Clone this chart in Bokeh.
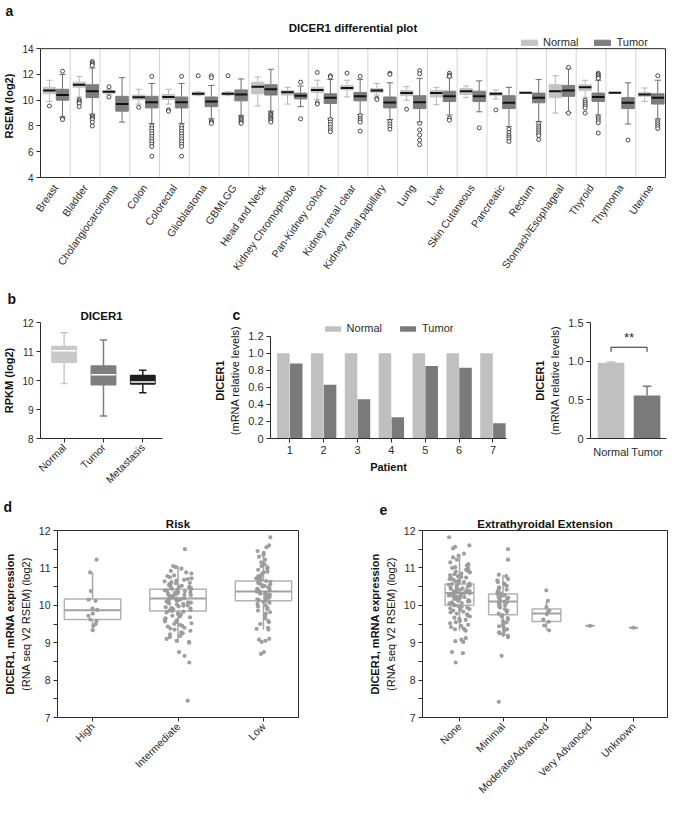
import math
from bokeh.plotting import figure
from bokeh.models import (Range1d, FixedTicker, ColumnDataSource, Legend, LegendItem,
                          Title, LinearAxis)
from bokeh.layouts import column, row
from bokeh.embed import file_html
from bokeh.resources import INLINE
from bokeh.transform import jitter

# ====================== DATA ======================
# ---- panel a: DICER1 differential plot (RSEM log2) ----
a_categories = ["Breast", "Bladder", "Cholangiocarcinoma", "Colon", "Colorectal",
                "Glioblastoma", "GBMLGG", "Head and Neck", "Kidney Chromophobe",
                "Pan-Kidney cohort", "Kidney renal clear", "Kidney renal papillary",
                "Lung", "Liver", "Skin Cutaneous", "Pancreatic", "Rectum",
                "Stomach/Esophageal", "Thyroid", "Thymoma", "Uterine"]
a_normal_lower = [9.9, 10.25, 10.45, 9.7, 9.7, 10.35, 10.35, 9.55, 9.7, 10.05, 10.25,
                  10.4, 10.0, 9.65, 10.2, 10.1, 10.58, 9.0, 10.2, 10.57, 9.9]
a_normal_q1 = [10.5, 11.0, 10.55, 10.05, 10.05, 10.4, 10.4, 10.5, 10.4, 10.6, 10.8,
               10.6, 10.35, 10.25, 10.45, 10.35, 10.58, 10.2, 10.75, 10.57, 10.3]
a_normal_median = [10.75, 11.2, 10.65, 10.22, 10.25, 10.5, 10.5, 11.05, 10.62, 10.8, 10.95,
                   10.75, 10.55, 10.55, 10.7, 10.5, 10.58, 10.7, 11.0, 10.57, 10.45]
a_normal_q3 = [11.0, 11.4, 10.75, 10.4, 10.45, 10.62, 10.6, 11.4, 10.75, 11.0, 11.15,
               10.9, 10.75, 10.75, 10.9, 10.6, 10.58, 11.2, 11.2, 10.57, 10.6]
a_normal_upper = [11.55, 11.85, 10.85, 10.85, 10.85, 10.65, 10.65, 11.8, 11.0, 11.55, 11.55,
                  11.3, 11.05, 11.0, 11.1, 10.8, 10.58, 11.9, 11.55, 10.57, 10.95]
a_normal_outliers = [[9.55], [10.05, 9.95, 9.85, 9.75, 9.5], [11.05, 10.25], [9.45],
                     [9.25, 9.15], [11.9], [11.9], [], [], [12.15, 9.8, 9.7], [12.1],
                     [10.15, 10.05], [9.3], [], [], [9.25], [], [],
                     [10.0, 9.85, 9.7, 9.55, 9.4, 9.0], [], []]
a_tumor_lower = [8.7, 8.9, 8.3, 8.2, 8.2, 8.55, 8.8, 9.15, 9.5, 8.6, 8.9,
                 8.5, 8.3, 8.85, 9.1, 7.95, 8.35, 9.05, 8.85, 8.15, 8.55]
a_tumor_q1 = [10.0, 10.2, 9.15, 9.4, 9.4, 9.5, 9.95, 10.4, 10.1, 9.75, 9.95,
              9.4, 9.35, 9.9, 9.9, 9.35, 9.8, 10.3, 9.9, 9.35, 9.7]
a_tumor_median = [10.4, 10.7, 9.7, 9.85, 9.85, 9.9, 10.45, 10.85, 10.35, 10.2, 10.3,
                  9.82, 9.85, 10.3, 10.3, 9.8, 10.2, 10.75, 10.25, 9.8, 10.2]
a_tumor_q3 = [10.85, 11.2, 10.3, 10.3, 10.25, 10.25, 10.8, 11.2, 10.55, 10.5, 10.6,
              10.25, 10.35, 10.7, 10.7, 10.35, 10.55, 11.15, 10.55, 10.2, 10.5]
a_tumor_upper = [12.0, 12.5, 11.75, 11.3, 11.3, 11.15, 11.65, 12.4, 11.1, 11.6, 11.6,
                 11.35, 11.7, 11.75, 11.5, 11.0, 11.6, 12.45, 11.55, 11.35, 11.55]
a_tumor_outliers = [[12.25, 8.6, 8.5],
                    [13.0, 12.9, 12.8, 12.7, 8.8, 8.7, 8.6, 8.5, 8.3, 8.0],
                    [],
                    [11.85, 8.0, 7.8, 7.6, 7.4, 7.2, 7.0, 6.8, 6.6, 6.4, 5.65],
                    [11.85, 8.0, 7.8, 7.6, 7.4, 7.2, 7.0, 6.8, 6.6, 6.4, 5.65],
                    [11.9, 11.75, 8.4, 8.3, 8.2],
                    [8.7, 8.6, 8.5, 8.4, 8.3, 8.2],
                    [9.0, 8.9, 8.8, 8.7, 8.6, 8.5, 8.4, 8.3],
                    [11.4, 8.55],
                    [11.9, 11.8, 8.5, 8.3, 8.1, 7.9, 7.7, 7.55],
                    [11.85, 8.8, 8.6, 8.45, 8.3, 7.6],
                    [12.1, 12.0, 8.35, 8.15, 7.95, 7.75],
                    [12.3, 12.05, 8.2, 7.7, 7.3, 6.9, 6.55],
                    [12.1, 11.95, 11.85, 8.6, 8.45],
                    [7.85],
                    [7.75, 7.5, 7.3, 7.15, 7.0, 6.8],
                    [8.2, 8.0, 7.85, 7.7, 7.55, 7.4, 7.25, 6.95],
                    [12.55, 9.0],
                    [12.1, 12.0, 11.9, 11.8, 11.7, 8.7, 8.55, 8.4, 8.25, 7.45],
                    [6.9],
                    [11.9, 8.4, 8.25, 8.1, 7.95, 7.8]]
a_yticks = [4, 6, 8, 10, 12, 14]

# ---- panel b: DICER1 RPKM (log2) ----
b_categories = ["Normal", "Tumor", "Metastasis"]
b_lower = [9.9, 8.78, 9.58]
b_q1 = [10.63, 9.85, 9.88]
b_median = [11.03, 10.2, 9.95]
b_q3 = [11.17, 10.5, 10.17]
b_upper = [11.65, 11.4, 10.35]
b_yticks = [8, 9, 10, 11, 12]

# ---- panel c: qPCR per patient ----
c_patients = [1, 2, 3, 4, 5, 6, 7]
c_normal = [1.0, 1.0, 1.0, 1.0, 1.0, 1.0, 1.0]
c_tumor = [0.88, 0.63, 0.46, 0.25, 0.85, 0.83, 0.18]
c_yticks = [0, 0.2, 0.4, 0.6, 0.8, 1.0, 1.2]
c_ytick_labels = ["0", "0.2", "0.4", "0.6", "0.8", "1.0", "1.2"]
c2_groups = ["Normal", "Tumor"]
c2_means = [0.98, 0.555]
c2_errors = [0.01, 0.12]
c2_yticks = [0, 0.5, 1.0, 1.5]
c2_ytick_labels = ["0", "0.5", "1.0", "1.5"]
c2_bracket_level = 1.18
c2_sig_label = "**"

# ---- panel d: Risk ----
d_categories = ["High", "Intermediate", "Low"]
d_high = [11.22, 10.88, 10.38, 10.15, 10.12, 9.92, 9.88, 9.78, 9.72, 9.62, 9.58, 9.50,
          9.45, 9.33]
d_intermediate = [11.50, 11.05, 11.02, 10.98, 10.92, 10.88, 10.85, 10.80, 10.78, 10.75,
                  10.72, 10.70, 10.68, 10.66, 10.64, 10.62, 10.60, 10.59, 10.57, 10.55,
                  10.54, 10.52, 10.50, 10.49, 10.47, 10.46, 10.45, 10.44, 10.43, 10.42,
                  10.40, 10.39, 10.38, 10.36, 10.35, 10.34, 10.32, 10.31, 10.30, 10.28,
                  10.27, 10.26, 10.25, 10.23, 10.22, 10.21, 10.20, 10.19, 10.18, 10.17,
                  10.16, 10.15, 10.14, 10.12, 10.11, 10.10, 10.08, 10.07, 10.05, 10.04,
                  10.02, 10.00, 9.99, 9.97, 9.95, 9.93, 9.92, 9.90, 9.88, 9.86, 9.85,
                  9.83, 9.81, 9.79, 9.77, 9.75, 9.72, 9.70, 9.68, 9.65, 9.62, 9.60, 9.57,
                  9.55, 9.52, 9.50, 9.48, 9.45, 9.43, 9.40, 9.38, 9.35, 9.32, 9.28, 9.25,
                  9.22, 9.18, 9.15, 9.10, 9.05, 9.02, 9.00, 8.75, 8.65, 8.47, 7.45]
d_low = [11.82, 11.60, 11.55, 11.45, 11.40, 11.35, 11.30, 11.22, 11.15, 11.10, 11.05,
         11.02, 10.98, 10.95, 10.90, 10.88, 10.85, 10.80, 10.78, 10.75, 10.72, 10.70,
         10.68, 10.65, 10.63, 10.60, 10.58, 10.56, 10.54, 10.52, 10.50, 10.48, 10.46,
         10.44, 10.42, 10.40, 10.38, 10.37, 10.35, 10.33, 10.31, 10.30, 10.28, 10.26,
         10.24, 10.22, 10.20, 10.18, 10.16, 10.14, 10.12, 10.10, 10.07, 10.04, 10.00,
         9.97, 9.93, 9.90, 9.86, 9.82, 9.78, 9.72, 9.65, 9.58, 9.55, 9.50, 9.40, 9.37,
         9.35, 9.10, 9.08, 9.05, 9.02, 8.75, 8.70]
d_lower = [9.33, 9.00, 9.35]
d_q1 = [9.62, 9.85, 10.12]
d_median = [9.87, 10.18, 10.37]
d_q3 = [10.17, 10.43, 10.65]
d_upper = [10.88, 11.05, 11.35]

# ---- panel e: Extrathyroidal Extension ----
e_categories = ["None", "Minimal", "Moderate/Advanced", "Very Advanced", "Unknown"]
e_none = [11.82, 11.60, 11.56, 11.52, 11.38, 11.33, 11.28, 11.22, 11.15, 11.10, 11.07,
          11.04, 11.02, 11.00, 10.97, 10.95, 10.92, 10.90, 10.88, 10.85, 10.83, 10.80,
          10.78, 10.76, 10.74, 10.72, 10.70, 10.68, 10.66, 10.64, 10.62, 10.60, 10.58,
          10.57, 10.55, 10.53, 10.52, 10.50, 10.48, 10.47, 10.45, 10.44, 10.42, 10.41,
          10.40, 10.38, 10.37, 10.36, 10.34, 10.33, 10.32, 10.31, 10.30, 10.28, 10.27,
          10.26, 10.25, 10.23, 10.22, 10.21, 10.20, 10.18, 10.17, 10.15, 10.14, 10.12,
          10.11, 10.10, 10.08, 10.06, 10.05, 10.03, 10.01, 10.00, 9.98, 9.96, 9.94,
          9.92, 9.90, 9.88, 9.86, 9.83, 9.81, 9.78, 9.76, 9.73, 9.70, 9.67, 9.64, 9.61,
          9.58, 9.55, 9.52, 9.48, 9.45, 9.42, 9.38, 9.36, 9.34, 9.32, 9.12, 9.08, 9.04,
          9.02, 8.75, 8.72, 8.47]
e_minimal = [11.50, 11.22, 10.82, 10.78, 10.70, 10.66, 10.62, 10.58, 10.55, 10.52,
             10.48, 10.45, 10.42, 10.38, 10.35, 10.32, 10.30, 10.27, 10.25, 10.22, 10.20,
             10.18, 10.15, 10.13, 10.10, 10.08, 10.06, 10.03, 10.00, 9.97, 9.94, 9.90,
             9.86, 9.82, 9.78, 9.74, 9.70, 9.66, 9.62, 9.58, 9.54, 9.50, 9.47, 9.44, 9.40,
             9.36, 9.32, 9.28, 9.25, 9.22, 9.18, 9.15, 8.65, 7.42]
e_moderate = [10.40, 10.12, 9.95, 9.86, 9.82, 9.76, 9.62, 9.56, 9.46, 9.33]
e_very_advanced = [9.45]
e_unknown = [9.40]
e_lower = [9.32, 9.15, 9.33, 9.45, 9.40]
e_q1 = [10.00, 9.75, 9.57, 9.45, 9.40]
e_median = [10.33, 10.10, 9.78, 9.45, 9.40]
e_q3 = [10.57, 10.30, 9.90, 9.45, 9.40]
e_upper = [11.33, 10.82, 10.12, 9.45, 9.40]
de_yticks = [7, 8, 9, 10, 11, 12]
de_minor = [7.5, 8.5, 9.5, 10.5, 11.5]

# ====================== STYLE HELPERS ======================
FONT = "Liberation Sans"
INK = "#2b2b2b"
LIGHT = "#c4c4c4"
DARK = "#7d7d7d"


def style_axis(ax, size="10px"):
    ax.major_label_text_font = FONT
    ax.major_label_text_font_size = size
    ax.major_label_text_color = INK
    ax.axis_label_text_font = FONT
    ax.axis_label_text_font_size = "11px"
    ax.axis_label_text_font_style = "bold"
    ax.axis_label_text_color = "#111111"
    ax.axis_line_color = INK
    ax.major_tick_line_color = INK
    ax.minor_tick_line_color = None
    ax.major_tick_in = 0
    ax.major_tick_out = 4
    ax.major_label_standoff = 3
    ax.axis_label_standoff = 4


def make_fig(width, height, xr, yr, left, right, top, bottom, letter, letter_offset,
             frame_height=None):
    size = dict(width=width)
    if frame_height is not None:
        size["frame_height"] = frame_height
    else:
        size["height"] = height
    p = figure(x_range=Range1d(*xr), y_range=Range1d(*yr),
               output_backend="svg", toolbar_location=None, title=letter,
               min_border_left=left, min_border_right=right,
               min_border_top=top, min_border_bottom=bottom, **size)
    p.title.text_font = FONT
    p.title.text_font_size = "14px"
    p.title.text_font_style = "bold"
    p.title.text_color = "#111111"
    p.title.align = "left"
    p.title.offset = letter_offset
    p.title.standoff = 0
    p.grid.visible = False
    p.outline_line_color = None
    p.background_fill_color = "white"
    p.border_fill_color = "white"
    for ax in p.axis:
        style_axis(ax)
    return p


def add_main_title(p, text, offset=0):
    p.add_layout(Title(text=text, align="center", offset=offset, text_font=FONT,
                       text_font_size="11.5px", text_font_style="bold",
                       text_color="#111111", standoff=2), "above")


def add_outer_label(p, text):
    ax = LinearAxis(ticker=FixedTicker(ticks=[]), axis_label=text)
    style_axis(ax)
    ax.axis_line_color = None
    ax.major_tick_out = 0
    ax.major_label_standoff = 0
    ax.axis_label_standoff = 1
    p.add_layout(ax, "left")


def make_legend(renderers, labels, location, spacing):
    return Legend(items=[LegendItem(label=l, renderers=[r]) for l, r in zip(labels, renderers)],
                  orientation="horizontal", location=location,
                  background_fill_alpha=0, border_line_color=None, padding=0, margin=0,
                  spacing=spacing, glyph_width=20, glyph_height=7, label_standoff=4,
                  label_text_font=FONT, label_text_font_size="11px", label_height=10,
                  label_text_color=INK)


def draw_boxes(p, xs, lo, q1, med, q3, hi, widths, fill, line, whisker, median_color,
               median_width, cap_frac, line_width=1.0):
    src = ColumnDataSource(dict(
        x=xs, lo=lo, q1=q1, med=med, q3=q3, hi=hi, w=widths,
        l=[x - w / 2 for x, w in zip(xs, widths)],
        r=[x + w / 2 for x, w in zip(xs, widths)],
        cl=[x - w * cap_frac / 2 for x, w in zip(xs, widths)],
        cr=[x + w * cap_frac / 2 for x, w in zip(xs, widths)]))
    p.segment(x0="x", y0="lo", x1="x", y1="q1", source=src, line_color=whisker,
              line_width=line_width)
    p.segment(x0="x", y0="q3", x1="x", y1="hi", source=src, line_color=whisker,
              line_width=line_width)
    if cap_frac > 0:
        p.segment(x0="cl", y0="lo", x1="cr", y1="lo", source=src, line_color=whisker,
                  line_width=line_width)
        p.segment(x0="cl", y0="hi", x1="cr", y1="hi", source=src, line_color=whisker,
                  line_width=line_width)
    box = p.vbar(x="x", width="w", bottom="q1", top="q3", source=src, fill_color=fill,
                 line_color=line, line_width=line_width)
    p.segment(x0="l", y0="med", x1="r", y1="med", source=src, line_color=median_color,
              line_width=median_width)
    return box


def flatten(xs, groups):
    fx, fy = [], []
    for x, vals in zip(xs, groups):
        for v in vals:
            fx.append(x)
            fy.append(v)
    return fx, fy


# ====================== PANEL A ======================
n = len(a_categories)
a_ylo, a_yhi = a_yticks[0], a_yticks[-1]
A_EXT = 1.1                      # room above the box for the legend (data units)
PA_W, PA_L, PA_R, PA_FH = 669, 36, 4, 143
pa = make_fig(PA_W, None, (0, n), (a_ylo, a_yhi + A_EXT), PA_L, PA_R, 24, 90, "a", -35,
              frame_height=PA_FH)
add_main_title(pa, "DICER1 differential plot", offset=-22)
pa.yaxis.ticker = FixedTicker(ticks=a_yticks)
pa.yaxis.bounds = (a_ylo, a_yhi)
pa.yaxis.axis_label = "RSEM (log2)"
pa.xaxis.ticker = FixedTicker(ticks=[i + 0.5 for i in range(n)])
pa.xaxis.major_label_overrides = {i + 0.5: c for i, c in enumerate(a_categories)}
pa.xaxis.major_label_orientation = math.radians(55)
pa.xaxis.major_tick_line_color = None
pa.xaxis.major_label_text_font_size = "10.5px"
pa.xaxis.major_label_standoff = 4
right_edge = LinearAxis(ticker=FixedTicker(ticks=[]), bounds=(a_ylo, a_yhi))
style_axis(right_edge)
right_edge.major_tick_out = 0
right_edge.major_label_standoff = 0
pa.add_layout(right_edge, "right")

seps = list(range(1, n))
pa.segment(x0=seps, y0=[a_ylo] * len(seps), x1=seps, y1=[a_yhi] * len(seps),
           line_color="#d3d3d3", line_width=1)
pa.segment(x0=[0], y0=[a_yhi], x1=[n], y1=[a_yhi], line_color=INK, line_width=1)

xN = [i + 0.30 for i in range(n)]
xT = [i + 0.74 for i in range(n)]
wA = [0.42] * n
rN = draw_boxes(pa, xN, a_normal_lower, a_normal_q1, a_normal_median, a_normal_q3,
                a_normal_upper, wA, LIGHT, LIGHT, "#b5b5b5", "#111111", 2, 0.5)
rT = draw_boxes(pa, xT, a_tumor_lower, a_tumor_q1, a_tumor_median, a_tumor_q3,
                a_tumor_upper, wA, DARK, DARK, "#6e6e6e", "#111111", 2, 0.5)
oxN, oyN = flatten(xN, a_normal_outliers)
oxT, oyT = flatten(xT, a_tumor_outliers)
pa.scatter(x=oxN + oxT, y=oyN + oyT, marker="circle", size=4, fill_color="white",
           line_color="#222222", line_width=0.8)

fw_a = PA_W - PA_L - PA_R
ext_px = PA_FH * A_EXT / (a_yhi + A_EXT - a_ylo)
pa.add_layout(make_legend([rN, rT], ["Normal", "Tumor"],
                          (fw_a - 150, int(PA_FH - ext_px) + 1), 14))

# ====================== PANEL B ======================
pb = make_fig(210, 216, (0.4, 3.5), (8, 12), 33, 48, 44, 52, "b", -33)
add_main_title(pb, "DICER1")
b_colors = ["#c8c8c8", "#7f7f7f", "#1e1e1e"]
xb = [i + 1 for i in range(len(b_categories))]
for i in range(len(b_categories)):
    draw_boxes(pb, [xb[i]], [b_lower[i]], [b_q1[i]], [b_median[i]], [b_q3[i]],
               [b_upper[i]], [0.62], b_colors[i], b_colors[i], b_colors[i],
               "white", 1.5, 0.3, line_width=1.5)
pb.yaxis.ticker = FixedTicker(ticks=b_yticks)
pb.yaxis.axis_label = "RPKM (log2)"
pb.xaxis.ticker = FixedTicker(ticks=xb)
pb.xaxis.major_label_overrides = {x: c for x, c in zip(xb, b_categories)}
pb.xaxis.major_label_orientation = math.radians(45)
pb.xaxis.major_label_text_font_size = "10.5px"

# ====================== PANEL C (patients) ======================
c_ylo, c_yhi = c_yticks[0], c_yticks[-1]
pc1 = make_fig(308, 216, (0.43, 7.4), (c_ylo, c_yhi + 0.16), 52, 12, 18, 56, "c", -38)
rcN = pc1.vbar(x=[p - 0.19 for p in c_patients], top=c_normal, width=0.37,
               fill_color="#c0c0c0", line_color=None)
rcT = pc1.vbar(x=[p + 0.19 for p in c_patients], top=c_tumor, width=0.37,
               fill_color="#7a7a7a", line_color=None)
pc1.yaxis.ticker = FixedTicker(ticks=c_yticks)
pc1.yaxis.bounds = (c_ylo, c_yhi)
pc1.yaxis.major_label_overrides = {t: s for t, s in zip(c_yticks, c_ytick_labels)}
pc1.yaxis.axis_label = "(mRNA relative levels)"
pc1.yaxis.axis_label_text_font_style = "normal"
pc1.yaxis.major_label_text_font_size = "11px"
add_outer_label(pc1, "DICER1")
pc1.xaxis.ticker = FixedTicker(ticks=c_patients)
pc1.xaxis.axis_label = "Patient"
pc1.xaxis.major_label_text_font_size = "11px"
pc1.add_layout(make_legend([rcN, rcT], ["Normal", "Tumor"], "top_center", 16))

# ====================== PANEL C (summary) ======================
pc2 = make_fig(151, 216, (0.43, 2.54), (0, 1.5), 72, 3, 41, 54, "", 0)
xc2 = [i + 1 for i in range(len(c2_groups))]
c2_colors = ["#c0c0c0", "#7a7a7a"]
pc2.vbar(x=xc2, top=c2_means, width=0.74, fill_color=c2_colors, line_color=None)
err_top = [m + e for m, e in zip(c2_means, c2_errors)]
pc2.segment(x0=xc2, y0=c2_means, x1=xc2, y1=err_top, line_color=c2_colors, line_width=1.5)
pc2.segment(x0=[x - 0.12 for x in xc2], y0=err_top, x1=[x + 0.12 for x in xc2],
            y1=err_top, line_color=c2_colors, line_width=1.5)
pc2.segment(x0=[xc2[0], xc2[0], xc2[1]],
            y0=[c2_bracket_level, c2_bracket_level, c2_bracket_level],
            x1=[xc2[1], xc2[0], xc2[1]],
            y1=[c2_bracket_level, c2_bracket_level - 0.06, c2_bracket_level - 0.06],
            line_color=INK, line_width=1)
pc2.text(x=[(xc2[0] + xc2[1]) / 2], y=[c2_bracket_level + 0.03], text=[c2_sig_label],
         text_align="center", text_baseline="bottom", text_font_size="13px",
         text_color=INK)
pc2.yaxis.ticker = FixedTicker(ticks=c2_yticks)
pc2.yaxis.major_label_overrides = {t: s for t, s in zip(c2_yticks, c2_ytick_labels)}
pc2.yaxis.axis_label = "(mRNA relative levels)"
pc2.yaxis.axis_label_text_font_style = "normal"
pc2.yaxis.major_label_text_font_size = "11px"
add_outer_label(pc2, "DICER1")
pc2.xaxis.ticker = FixedTicker(ticks=xc2)
pc2.xaxis.major_label_overrides = {x: g for x, g in zip(xc2, c2_groups)}
pc2.xaxis.major_tick_line_color = None
pc2.xaxis.major_label_text_font_size = "11px"

# ====================== PANEL D / E ======================
PT_COLOR = "#9a9a9a"
BOX_LINE = "#b3b3b3"


def strip_panel(p, groups, jit_widths, lo, q1, med, q3, hi):
    xs = [i + 1 for i in range(len(groups))]
    widths = [0.66 if b > a else 0.2 for a, b in zip(q1, q3)]
    draw_boxes(p, xs, lo, q1, med, q3, hi, widths, None, BOX_LINE, "#a5a5a5",
               "#a0a0a0", 2, 0.0, line_width=1.5)
    for x, vals, jw in zip(xs, groups, jit_widths):
        src = ColumnDataSource(dict(x=[x] * len(vals), y=vals))
        p.scatter(x=jitter("x", width=jw), y="y", source=src, marker="circle", size=4.2,
                  fill_color=PT_COLOR, line_color=None, fill_alpha=0.95)
    p.outline_line_color = INK
    p.yaxis.ticker = FixedTicker(ticks=de_yticks, minor_ticks=de_minor)
    p.yaxis.minor_tick_line_color = INK
    p.yaxis.minor_tick_out = 4
    p.yaxis.minor_tick_in = 0
    p.yaxis.major_label_text_font_size = "10.5px"
    p.yaxis.axis_label = "(RNA seq V2 RSEM) (log2)"
    p.yaxis.axis_label_text_font_style = "normal"
    add_outer_label(p, "DICER1, mRNA expression")
    p.xaxis.ticker = FixedTicker(ticks=xs)
    p.xaxis.major_label_orientation = math.radians(45)
    p.xaxis.major_label_text_font_size = "10.5px"


pd_ = make_fig(327, 308, (0.59, 3.41), (7, 12), 56, 29, 36, 79, "d", -54)
add_main_title(pd_, "Risk")
strip_panel(pd_, [d_high, d_intermediate, d_low], [0.12, 0.32, 0.17],
            d_lower, d_q1, d_median, d_q3, d_upper)
pd_.xaxis.major_label_overrides = {i + 1: c for i, c in enumerate(d_categories)}

pe = make_fig(342, 308, (0.15, 5.78), (7, 12), 95, 2, 36, 79, "e", -43)
add_main_title(pe, "Extrathyroidal Extension")
strip_panel(pe, [e_none, e_minimal, e_moderate, e_very_advanced, e_unknown],
            [0.5, 0.27, 0.22, 0.0, 0.0], e_lower, e_q1, e_median, e_q3, e_upper)
pe.xaxis.major_label_overrides = {i + 1: c for i, c in enumerate(e_categories)}

layout = column(pa, row(pb, pc1, pc2), row(pd_, pe))
open("out.html", "w").write(file_html(layout, INLINE, "DICER1"))
